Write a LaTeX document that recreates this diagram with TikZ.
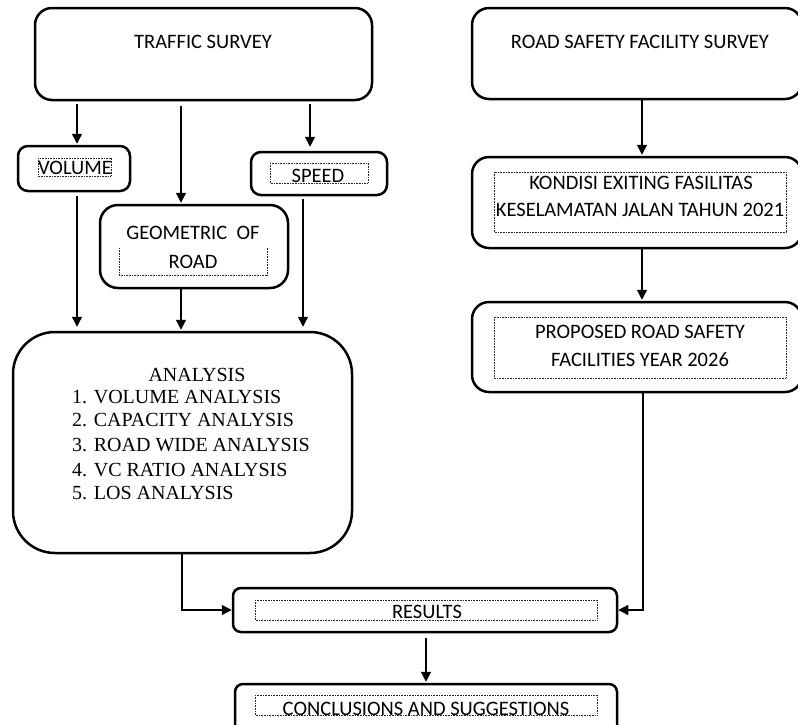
\documentclass[tikz,border=0pt]{standalone}
\usepackage{fontspec}
\setmainfont{Carlito}
\newfontfamily\tnr{Liberation Serif}
\usetikzlibrary{arrows.meta,calc}
\tikzset{
  box/.style={draw=black, line width=2.5pt, fill=none, inner sep=0pt},
  dotbox/.style={draw=black!85, line width=0.9pt, dash pattern=on 0.8pt off 0.8pt},
  lbl/.style={inner sep=0pt, font=\fontsize{20.5}{24}\selectfont, anchor=center},
  arr/.style={line width=1.3pt, -{Triangle[length=10pt,width=10pt]}},
  ln/.style={line width=1.3pt}
}
\begin{document}
\begin{tikzpicture}[x=1pt,y=-1pt]
\useasboundingbox (0,0) rectangle (798,724);
\clip (0,0) rectangle (798,724);
% boxes
\node[box, rounded corners=17pt, minimum width=337pt, minimum height=92pt] (ts) at (203.5,54) {};
\node[box, rounded corners=10pt, minimum width=112pt, minimum height=45pt] (vol) at (74,168.5) {};
\node[box, rounded corners=10pt, minimum width=136pt, minimum height=43pt] (spd) at (319,173.5) {};
\node[box, rounded corners=18pt, minimum width=188pt, minimum height=83pt] (geo) at (194,246.5) {};
\node[box, rounded corners=42pt, minimum width=339pt, minimum height=221pt] (ana) at (182.5,442.5) {};
\node[box, rounded corners=8pt, minimum width=384pt, minimum height=44pt] (res) at (425,610) {};
\node[box, rounded corners=8pt, minimum width=382pt, minimum height=56pt] (con) at (426,712) {};
\node[box, rounded corners=17pt, minimum width=330pt, minimum height=91pt] (rsf) at (637,53.5) {};
\node[box, rounded corners=17pt, minimum width=330pt, minimum height=91pt] (kon) at (637,202.5) {};
\node[box, rounded corners=17pt, minimum width=330pt, minimum height=90pt] (pro) at (637,347) {};
% dotted inner frames
\draw[dotbox] (38,158) rectangle (111,176);
\draw[dotbox] (270,163) rectangle (368,183);
\draw[dotbox] (119,248) -- (119,275) -- (267,275) -- (267,248);
\draw[dotbox] (494,172) rectangle (786,232);
\draw[dotbox] (494,317) rectangle (786,378);
\draw[dotbox] (255,600) rectangle (597,620);
\draw[dotbox] (255,695) rectangle (597,715);
% texts
\node[lbl] (tsT) at (203,42) {TRAFFIC SURVEY};
\node[lbl] (volT) at (75,168) {VOLUME};
\node[lbl] (spdT) at (318,176) {SPEED};
\node[lbl] (geoT1) at (193,233) {GEOMETRIC\ \ OF};
\node[lbl] (geoT2) at (193,262) {ROAD};
\node[inner sep=0pt, anchor=center, font=\tnr\fontsize{20}{24}\selectfont] (anaT) at (197,375) {ANALYSIS};
\node[inner sep=0pt, anchor=west, font=\tnr\fontsize{20}{24}\selectfont] (an1) at (72,397) {1. VOLUME ANALYSIS};
\node[inner sep=0pt, anchor=west, font=\tnr\fontsize{20}{24}\selectfont] (an2) at (72,420) {2. CAPACITY ANALYSIS};
\node[inner sep=0pt, anchor=west, font=\tnr\fontsize{20}{24}\selectfont] (an3) at (72,445) {3. ROAD WIDE ANALYSIS};
\node[inner sep=0pt, anchor=west, font=\tnr\fontsize{20}{24}\selectfont] (an4) at (72,470) {4. VC RATIO ANALYSIS};
\node[inner sep=0pt, anchor=west, font=\tnr\fontsize{20}{24}\selectfont] (an5) at (72,493) {5. LOS ANALYSIS};
\node[lbl] (rsfT) at (640,42) {ROAD SAFETY FACILITY SURVEY};
\node[lbl] (konT1) at (641,183) {KONDISI EXITING FASILITAS};
\node[lbl] (konT2) at (640,210) {KESELAMATAN JALAN TAHUN 2021};
\node[lbl] (proT1) at (640,332) {PROPOSED ROAD SAFETY};
\node[lbl] (proT2) at (640,360) {FACILITIES YEAR 2026};
\node[lbl] (resT) at (427,612) {RESULTS};
\node[lbl] (conT) at (426,709) {CONCLUSIONS AND SUGGESTIONS};
% connectors
\draw[arr, shorten <=3pt, shorten >=1pt] (ts.south -| 77,0) -- (vol.north -| 77,0);
\draw[arr, shorten <=5pt, shorten >=1pt] (ts.south -| 181,0) -- (geo.north -| 181,0);
\draw[arr, shorten <=3pt, shorten >=4pt] (ts.south -| 310,0) -- (spd.north -| 310,0);
\draw[arr, shorten <=4pt, shorten >=4pt] (vol.south -| 77,0) -- (ana.north -| 77,0);
\draw[arr, shorten >=1pt] (geo.south -| 181,0) -- (ana.north -| 181,0);
\draw[arr, shorten <=3pt, shorten >=4pt] (spd.south -| 303,0) -- (ana.north -| 303,0);
\draw[arr, shorten >=1pt] (rsf.south -| 642,0) -- (kon.north -| 642,0);
\draw[arr, shorten >=1pt] (kon.south -| 642,0) -- (pro.north -| 642,0);
\draw[arr] (ana.south -| 182,0) |- (res.west);
\draw[arr] (pro.south -| 643,0) |- (res.east);
\draw[arr, shorten <=5pt, shorten >=1pt] (res.south -| 426,0) -- (con.north -| 426,0);
\end{tikzpicture}
\end{document}
